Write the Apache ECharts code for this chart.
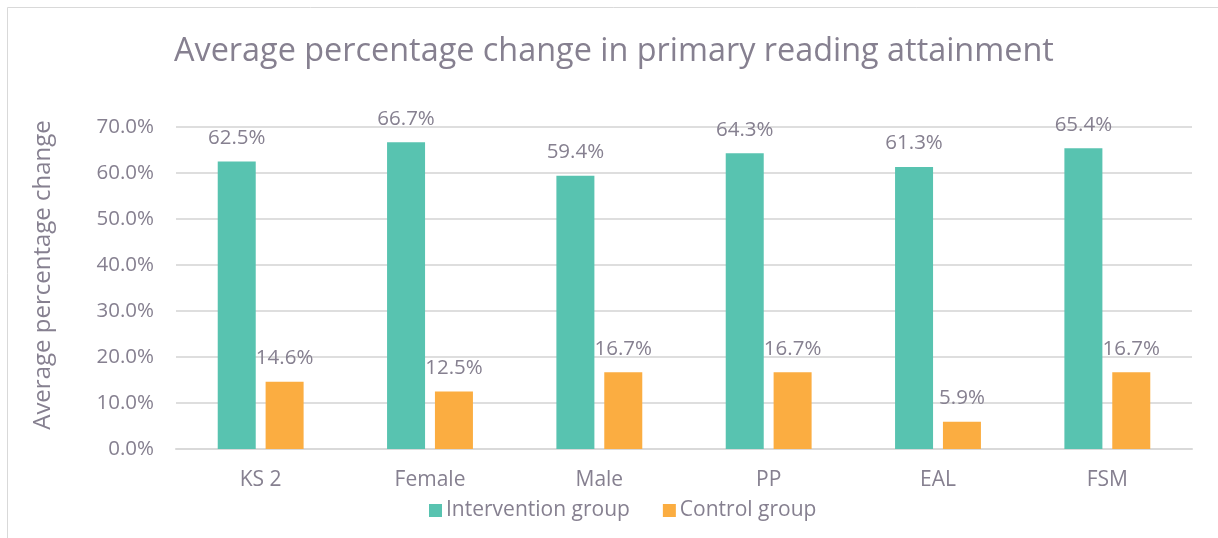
<!DOCTYPE html>
<html>
<head>
<meta charset="utf-8">
<script src="https://cdn.jsdelivr.net/npm/echarts@6/dist/echarts.min.js"></script>
<style>
    html, body { margin: 0; padding: 0; background: #fff; }
    #chart { width: 1218px; height: 538px; }
</style>
</head>
<body>
<div id="chart"></div>
<script>
    // data
    const categories = ['KS 2', 'Female', 'Male', 'PP', 'EAL', 'FSM'];
    const intervention = [62.5, 66.7, 59.4, 64.3, 61.3, 65.4];
    const control = [14.6, 12.5, 16.7, 16.7, 5.9, 16.7];
    const yTicks = { min: 0, max: 70, interval: 10 };

    const textColor = '#868090';
    const fontFamily = '"Open Sans", "Noto Sans", sans-serif';

    let chart = echarts.init(document.getElementById('chart'));

    const labelStyle = {
        show: true,
        position: 'top',
        distance: 13,
        color: textColor,
        fontSize: 20.5,
        fontFamily: fontFamily,
        formatter: p => p.value.toFixed(1) + '%'
    };

    chart.setOption({
        backgroundColor: '#fff',
        textStyle: { fontFamily: fontFamily, color: textColor },
        graphic: [{
            type: 'rect',
            shape: { x: 7.5, y: 7.5, width: 1220, height: 540 },
            style: { fill: 'none', stroke: '#d9d9d9', lineWidth: 1 },
            silent: true
        }],
        title: {
            text: 'Average percentage change in primary reading attainment',
            left: 169,
            top: 31,
            textStyle: { fontSize: 32.4, fontWeight: 'normal', color: textColor, fontFamily: fontFamily }
        },
        legend: {
            data: ['Intervention group', 'Control group'],
            left: 424,
            top: 495,
            itemWidth: 13,
            itemHeight: 13,
            itemGap: 33,
            icon: 'rect',
            textStyle: { fontSize: 21, color: textColor, padding: [0, 0, 0, -1] }
        },
        grid: { left: 176, right: 26, top: 127, bottom: 89 },
        xAxis: {
            type: 'category',
            data: categories,
            axisLine: { lineStyle: { color: '#d9d9d9', width: 2 } },
            axisTick: { show: false },
            axisLabel: { color: textColor, fontSize: 21, margin: 21 }
        },
        yAxis: {
            type: 'value',
            min: yTicks.min,
            max: yTicks.max,
            interval: yTicks.interval,
            name: 'Average percentage change',
            nameLocation: 'middle',
            nameGap: 121,
            nameTextStyle: { fontSize: 24, color: textColor, padding: [0, 0, 0, 26] },
            axisLabel: {
                color: textColor,
                fontSize: 20.5,
                margin: 22,
                formatter: v => v.toFixed(1) + '%'
            },
            splitLine: { lineStyle: { color: '#dedede', width: 2 } }
        },
        series: [
            {
                name: 'Intervention group',
                type: 'bar',
                data: intervention,
                barWidth: 38,
                barGap: '26%',
                itemStyle: { color: '#58c3b0' },
                label: labelStyle
            },
            {
                name: 'Control group',
                type: 'bar',
                data: control,
                barWidth: 38,
                itemStyle: { color: '#fbad41' },
                label: labelStyle
            }
        ]
    });
</script>
</body>
</html>
